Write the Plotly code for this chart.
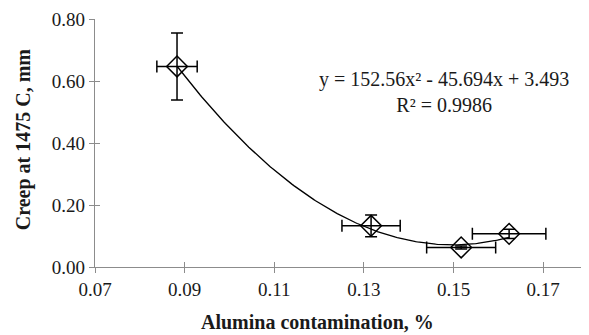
import numpy as np
import plotly.graph_objects as go

# Data
alumina = [0.0883, 0.1316, 0.1517, 0.1624]
creep = [0.647, 0.133, 0.063, 0.107]
creep_err = [0.108, 0.035, 0.005, 0.015]
alumina_err = [0.0045, 0.0065, 0.0077, 0.0082]
coef = [152.56, -45.694, 3.493]
eq_text = "y = 152.56x² - 45.694x + 3.493<br>R² = 0.9986"
x_ticks = [0.07, 0.09, 0.11, 0.13, 0.15, 0.17]
y_ticks = [0.0, 0.2, 0.4, 0.6, 0.8]

FONT = "Liberation Serif, Times New Roman, serif"
AX = "#8c8c8c"
TXT = "#1a1a1a"

xs = np.linspace(min(alumina), max(alumina), 200)
ys = coef[0] * xs**2 + coef[1] * xs + coef[2]

fig = go.Figure()
fig.add_trace(go.Scatter(x=xs, y=ys, mode="lines",
                         line=dict(color="black", width=1.3),
                         showlegend=False, hoverinfo="skip"))
fig.add_trace(go.Scatter(
    x=alumina, y=creep, mode="markers",
    marker=dict(symbol="diamond-open", size=16, color="black",
                line=dict(color="black", width=1.5)),
    error_y=dict(type="data", array=creep_err, color="black", thickness=1.5, width=6),
    error_x=dict(type="data", array=alumina_err, color="black", thickness=1.5, width=6),
    showlegend=False))

axis_common = dict(showgrid=False, zeroline=False, showline=True, linecolor=AX,
                   linewidth=1.3, tickcolor=AX, tickwidth=1.3, ticklen=5,
                   ticks="outside", ticklabeloverflow="allow",
                   tickfont=dict(family=FONT, size=19, color=TXT))

# body has an 8px default margin: compensate so the plot area sits where the reference has it
fig.update_layout(
    width=581, height=327,
    margin=dict(l=87, r=1, t=7, b=68),
    paper_bgcolor="white", plot_bgcolor="white",
    xaxis=dict(range=[0.07, 0.18], tickvals=x_ticks,
               ticktext=[f"{v:.2f}" for v in x_ticks], **axis_common),
    yaxis=dict(range=[0, 0.8002], tickvals=y_ticks,
               ticktext=[f"{v:.2f}" for v in y_ticks], **axis_common),
    xaxis2=dict(range=[0.07, 0.18], overlaying="x", tickvals=x_ticks, ticks="inside",
                ticklen=5, tickcolor=AX, tickwidth=1.3, showticklabels=False,
                showgrid=False, zeroline=False, side="bottom", anchor="y"),
    yaxis2=dict(range=[0, 0.8002], overlaying="y", tickvals=y_ticks, ticks="inside",
                ticklen=5, tickcolor=AX, tickwidth=1.3, showticklabels=False,
                showgrid=False, zeroline=False, side="left", anchor="x"),
    annotations=[
        dict(text=eq_text, x=0.1478, y=0.566, xref="x", yref="y", showarrow=False,
             font=dict(family=FONT, size=20, color=TXT)),
        dict(text="<b>Alumina contamination, %</b>", x=0.452, y=-0.222,
             xref="paper", yref="paper", showarrow=False, yanchor="middle",
             font=dict(family=FONT, size=20, color=TXT)),
        dict(text="<b>Creep at 1475 C, mm</b>", x=-0.146, y=0.515, textangle=-90,
             xref="paper", yref="paper", showarrow=False, xanchor="center",
             font=dict(family=FONT, size=20, color=TXT)),
    ],
)
fig.add_trace(go.Scatter(x=[None], y=[None], xaxis="x2", yaxis="y2",
                         showlegend=False, hoverinfo="skip"))

fig.write_html("out.html")
